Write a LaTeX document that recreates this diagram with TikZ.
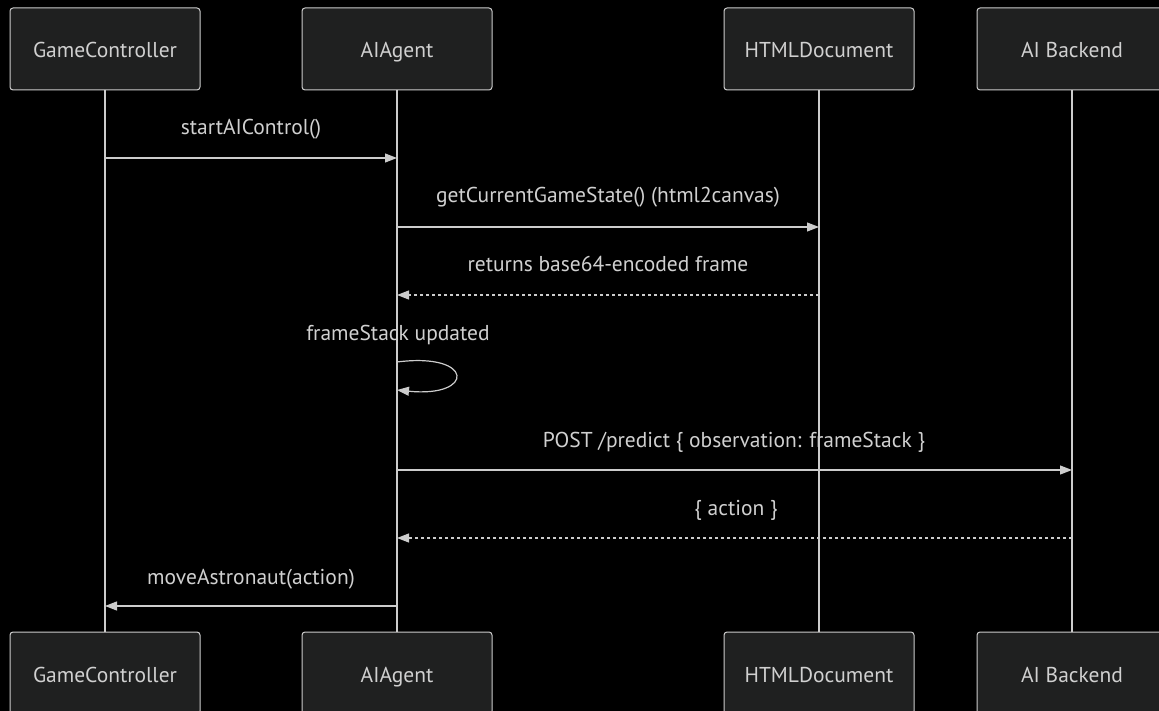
\documentclass[tikz,border=0pt]{standalone}
\usepackage{fontspec}
\setmainfont{PT Sans}
\usetikzlibrary{arrows.meta}
\definecolor{bg}{HTML}{000000}
\definecolor{boxfill}{HTML}{1F2020}
\definecolor{edge}{HTML}{CCCCCC}
\definecolor{txt}{HTML}{D0D0D0}
\tikzset{
  actor/.style={draw=edge, fill=boxfill, rounded corners=3pt, line width=1pt,
    minimum width=190pt, minimum height=82pt, text=txt, font=\fontsize{21.5pt}{25pt}\selectfont,
    inner sep=0pt, text height=19pt, text depth=1pt},
  life/.style={draw=edge, line width=1.2pt},
  msg/.style={draw=edge, line width=1.2pt, -{Triangle[length=12pt,width=9pt]}},
  ret/.style={msg, dash pattern=on 3pt off 3pt},
  lbl/.style={text=txt, font=\fontsize{21.5pt}{25pt}\selectfont, inner sep=0pt, text height=15pt, text depth=5pt},
}
\begin{document}
\begin{tikzpicture}[x=1pt,y=-1pt]
\fill[bg] (0,0) rectangle (1159,711);
\useasboundingbox (0,0) rectangle (1159,711);
% top actors
\node[actor] (gct) at (105,49) {GameController};
\node[actor] (aat) at (397,49) {AIAgent};
\node[actor] (hdt) at (819,49) {HTMLDocument};
\node[actor] (abt) at (1072,49) {AI Backend};
% bottom actors
\node[actor] (gcb) at (105,673) {GameController};
\node[actor] (aab) at (397,673) {AIAgent};
\node[actor] (hdb) at (819,673) {HTMLDocument};
\node[actor] (abb) at (1072,673) {AI Backend};
% lifelines
\draw[life] (gct.south) -- (gcb.north);
\draw[life] (aat.south) -- (aab.north);
\draw[life] (hdt.south) -- (hdb.north);
\draw[life] (abt.south) -- (abb.north);
% message points
\coordinate (m1a) at (gct.south |- 0,158);
\coordinate (m1b) at (aat.south |- 0,158);
\coordinate (m2a) at (aat.south |- 0,227);
\coordinate (m2b) at (hdt.south |- 0,227);
\coordinate (m3a) at (hdt.south |- 0,295);
\coordinate (m3b) at (aat.south |- 0,295);
\coordinate (s1) at (aat.south |- 0,362);
\coordinate (s2) at (aat.south |- 0,390);
\coordinate (m5a) at (aat.south |- 0,470);
\coordinate (m5b) at (abt.south |- 0,470);
\coordinate (m6a) at (abt.south |- 0,538);
\coordinate (m6b) at (aat.south |- 0,538);
\coordinate (m7a) at (aat.south |- 0,606);
\coordinate (m7b) at (gct.south |- 0,606);
% messages
\draw[msg] (m1a) -- (m1b);
\node[lbl] (l1) at (251,130) {startAIControl()};
\draw[msg] (m2a) -- (m2b);
\node[lbl] (l2) at (608,198) {getCurrentGameState() (html2canvas)};
\draw[ret] (m3a) -- (m3b);
\node[lbl] (l3) at (608,267) {returns base64-encoded frame};
\draw[msg] (s1) .. controls (475,352) and (475,398) .. (s2);
\node[lbl] (l4) at (398,335) {frameStack updated};
\draw[msg] (m5a) -- (m5b);
\node[lbl] (l5) at (734,442) {POST /predict \{ observation: frameStack \}};
\draw[ret] (m6a) -- (m6b);
\node[lbl] (l6) at (736,510) {\{ action \}};
\draw[msg] (m7a) -- (m7b);
\node[lbl] (l7) at (251,579) {moveAstronaut(action)};
\end{tikzpicture}
\end{document}
